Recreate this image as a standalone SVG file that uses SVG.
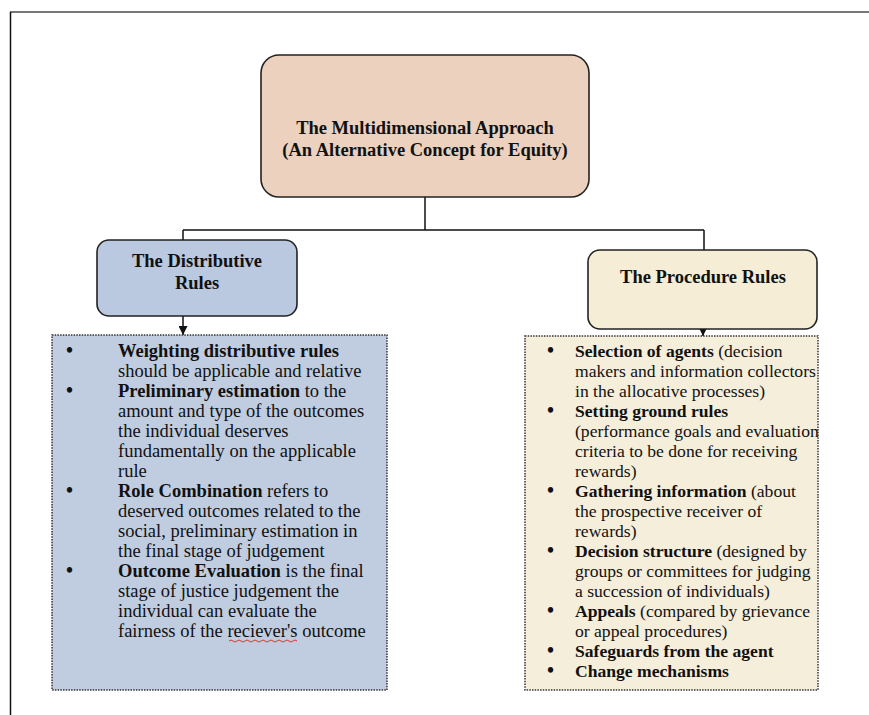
<svg xmlns="http://www.w3.org/2000/svg" width="869" height="715" viewBox="0 0 869 715">
<defs>
<style>
.t{font-family:"Liberation Serif","Times New Roman",serif;font-size:18.5px;fill:#111}
.r{font-size:17.6px}
.b{font-weight:bold}
.c{text-anchor:middle}
.bu{font-weight:bold;font-size:20px}
.node{stroke:#222;stroke-width:1.6}
.dot{stroke:#333;stroke-width:1.5;stroke-dasharray:1.5 1.2}
.ln{stroke:#111;stroke-width:1.5;fill:none}
</style>
<marker id="ah" viewBox="0 0 10 10" refX="10" refY="5" markerWidth="9" markerHeight="9" markerUnits="userSpaceOnUse" orient="auto">
<path d="M0,0 L10,5 L0,10 z" fill="#111"/>
</marker>
</defs>
<rect width="869" height="715" fill="#fff"/>
<line x1="10" y1="12" x2="869" y2="12" stroke="#777" stroke-width="2"/>
<line x1="10.5" y1="12" x2="10.5" y2="715" stroke="#111" stroke-width="1.5"/>

<g id="connectors">
<path class="ln" d="M425,197 V230 M183,230 H704 M183,230 V240 M704,230 V250"/>
<line class="ln" x1="183" y1="316" x2="183" y2="335" marker-end="url(#ah)"/>
<line class="ln" x1="703" y1="329" x2="703" y2="336" marker-end="url(#ah)"/>
</g>

<g id="root">
<rect class="node" x="261" y="55" width="328" height="142" rx="18" fill="#ecd1bf"/>
<text class="t b c" x="425" y="134">The Multidimensional Approach</text>
<text class="t b c" x="425" y="156">(An Alternative Concept for Equity)</text>
</g>

<g id="distributive">
<rect class="node" x="97" y="240" width="200" height="76" rx="12" fill="#bac8e0"/>
<text class="t b c" x="197" y="267">The Distributive</text>
<text class="t b c" x="197" y="289">Rules</text>
</g>

<g id="procedure">
<rect class="node" x="588" y="250" width="229" height="79" rx="12" fill="#f5edd6"/>
<text class="t b c" x="703" y="283">The Procedure Rules</text>
</g>

<g id="distributive-list">
<rect class="dot" x="52" y="335" width="335" height="355" fill="#c0cce0"/>
<g class="t">
<text class="bu" x="66" y="357">•</text>
<text class="bu" x="66" y="397">•</text>
<text class="bu" x="66" y="497">•</text>
<text class="bu" x="66" y="577">•</text>
<text x="118" y="357"><tspan class="b">Weighting distributive rules</tspan></text>
<text x="118" y="377">should be applicable and relative</text>
<text x="118" y="397"><tspan class="b">Preliminary estimation</tspan> to the</text>
<text x="118" y="417">amount and type of the outcomes</text>
<text x="118" y="437">the individual deserves</text>
<text x="118" y="457">fundamentally on the applicable</text>
<text x="118" y="477">rule</text>
<text x="118" y="497"><tspan class="b">Role Combination</tspan> refers to</text>
<text x="118" y="517">deserved outcomes related to the</text>
<text x="118" y="537">social, preliminary estimation in</text>
<text x="118" y="557">the final stage of judgement</text>
<text x="118" y="577"><tspan class="b">Outcome Evaluation</tspan> is the final</text>
<text x="118" y="597">stage of justice judgement the</text>
<text x="118" y="617">individual can evaluate the</text>
<text x="118" y="637">fairness of the reciever's outcome</text>
</g>
<path d="M229,641 q2,-2 4,0 t4,0 t4,0 t4,0 t4,0 t4,0 t4,0 t4,0 t4,0 t4,0 t4,0 t4,0 t4,0 t4,0 t4,0 t4,0 t4,0" fill="none" stroke="#d33" stroke-width="1"/>
</g>

<g id="procedure-list">
<rect class="dot" x="525" y="336" width="293" height="354" fill="#f5eedb"/>
<g class="t r">
<text class="bu" x="547" y="357">•</text>
<text class="bu" x="547" y="417">•</text>
<text class="bu" x="547" y="497">•</text>
<text class="bu" x="547" y="557">•</text>
<text class="bu" x="547" y="617">•</text>
<text class="bu" x="547" y="657">•</text>
<text class="bu" x="547" y="677">•</text>
<text x="575" y="357"><tspan class="b">Selection of agents</tspan> (decision</text>
<text x="575" y="377">makers and information collectors</text>
<text x="575" y="397">in the allocative processes)</text>
<text x="575" y="417"><tspan class="b">Setting ground rules</tspan></text>
<text x="575" y="437">(performance goals and evaluation</text>
<text x="575" y="457">criteria to be done for receiving</text>
<text x="575" y="477">rewards)</text>
<text x="575" y="497"><tspan class="b">Gathering information</tspan> (about</text>
<text x="575" y="517">the prospective receiver of</text>
<text x="575" y="537">rewards)</text>
<text x="575" y="557"><tspan class="b">Decision structure</tspan> (designed by</text>
<text x="575" y="577">groups or committees for judging</text>
<text x="575" y="597">a succession of individuals)</text>
<text x="575" y="617"><tspan class="b">Appeals</tspan> (compared by grievance</text>
<text x="575" y="637">or appeal procedures)</text>
<text x="575" y="657"><tspan class="b">Safeguards from the agent</tspan></text>
<text x="575" y="677"><tspan class="b">Change mechanisms</tspan></text>
</g>
</g>
</svg>
